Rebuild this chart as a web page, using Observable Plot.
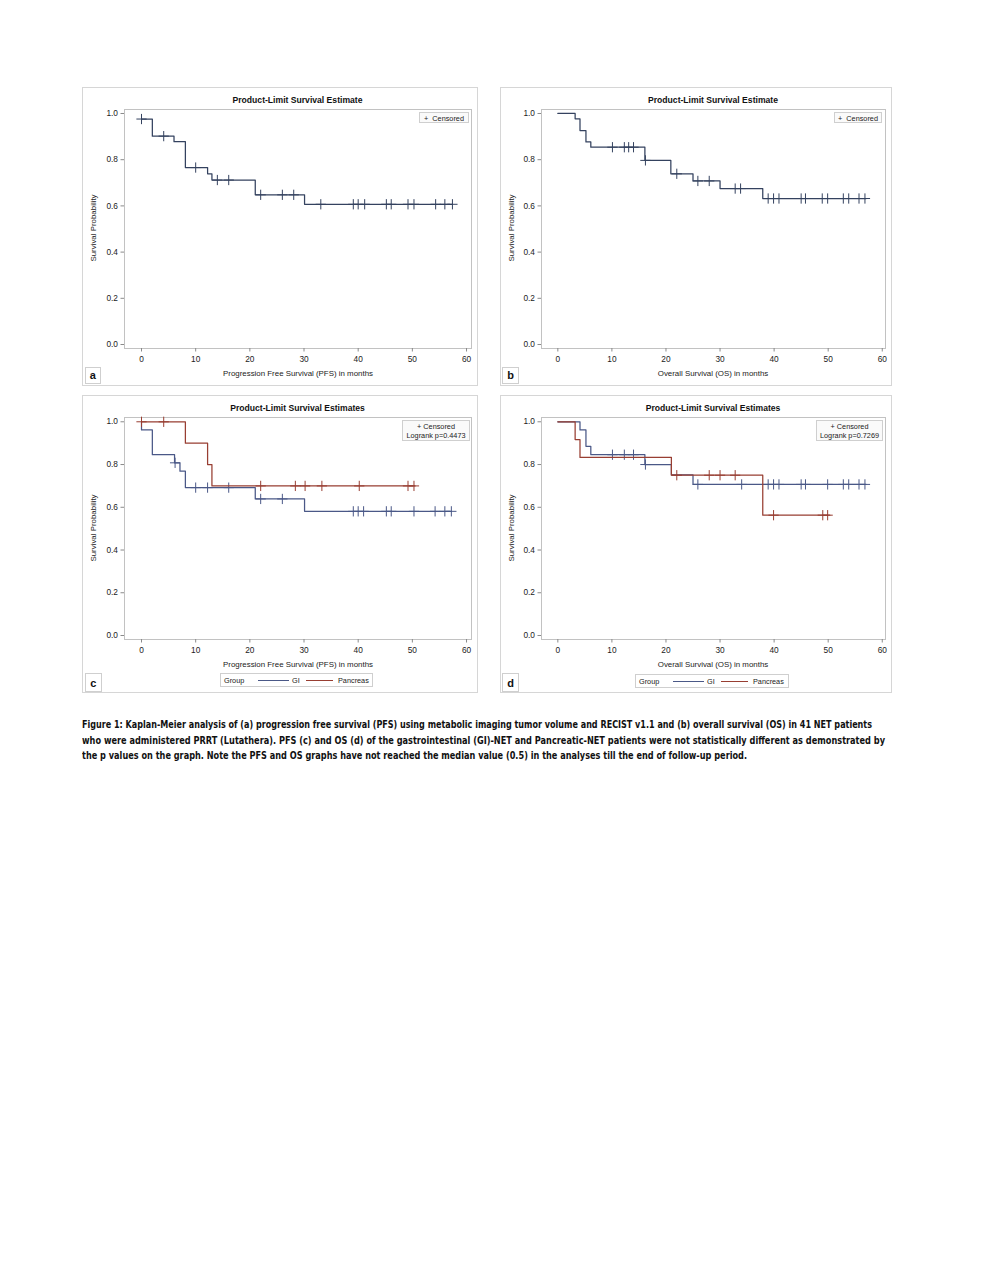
<!DOCTYPE html>
<html><head><meta charset="utf-8">
<script src="https://cdn.jsdelivr.net/npm/d3@7"></script>
<script src="https://cdn.jsdelivr.net/npm/@observablehq/plot@0.6"></script>
<style>
body{margin:0;background:#fff;width:989px;height:1280px;position:relative;font-family:"Liberation Sans",Arial,sans-serif;overflow:hidden;}
.abs{position:absolute;white-space:nowrap;}
.panel{position:absolute;border:1px solid #d6d6d6;box-sizing:border-box;background:#fff;}
.title{font-weight:bold;font-size:8.6px;color:#111;transform:translate(-50%,-50%);}
.xlab{font-size:7.9px;color:#222;transform:translate(-50%,-50%);}
.ylab{font-size:7.9px;color:#222;transform:translate(-50%,-50%) rotate(-90deg);}
.inset{position:absolute;border:1px solid #cfcfcf;background:#fafafa;font-size:7.3px;color:#222;text-align:center;box-sizing:border-box;line-height:9.5px;}
.letter{position:absolute;border:1px solid #cfcfcf;background:#fff;font-weight:bold;font-size:11px;color:#111;box-sizing:border-box;display:flex;align-items:center;justify-content:center;font-family:"Liberation Sans",Arial,sans-serif;}
.legend{position:absolute;border:1px solid #cfcfcf;background:#fff;box-sizing:border-box;font-size:7.3px;color:#222;}
.legend span{position:absolute;top:50%;transform:translateY(-50%);white-space:nowrap;}
.legend i{position:absolute;top:50%;height:0;display:block;}
.cap{position:absolute;left:82px;white-space:nowrap;font-family:"Liberation Sans Narrow","DejaVu Sans Condensed",sans-serif;font-weight:bold;font-size:10.4px;color:#111;transform-origin:0 50%;}
svg{position:absolute;}
</style>
</head><body>
<script>
// ---------- data ----------
const xTicks = [0, 10, 20, 30, 40, 50, 60];
const yTicks = [0, 0.2, 0.4, 0.6, 0.8, 1.0];

// (a) PFS, all patients
const pfsTimes = [0, 2, 6, 8.1, 12.2, 13, 21, 30.1, 57.4];
const pfsSurv  = [0.976, 0.902, 0.878, 0.766, 0.739, 0.712, 0.648, 0.607, 0.607];
const pfsCensor = [0, 4.1, 10, 14, 16.1, 22, 26, 28.1, 33.1, 39.1, 40, 41.2, 45.2, 46.1, 49.2, 50.3, 54.3, 56, 57.4];

// (b) OS, all patients
const osTimes = [0, 3.2, 4.1, 5.2, 6.1, 16.1, 20.9, 25, 30, 37.9, 57];
const osSurv  = [1, 0.977, 0.926, 0.877, 0.854, 0.797, 0.739, 0.708, 0.675, 0.632, 0.632];
const osCensor = [10.1, 12.3, 13.1, 14, 16.2, 22, 25.9, 28, 32.8, 33.8, 38.9, 39.9, 40.9, 45, 45.8, 48.9, 49.9, 52.8, 53.8, 55.7, 56.8];

// (c) PFS by group
const pfsGITimes = [0, 0, 2, 6.1, 7.1, 8.1, 21, 30.1, 57.2];
const pfsGISurv  = [1, 0.962, 0.846, 0.808, 0.769, 0.692, 0.639, 0.581, 0.581];
const pfsGICensor = [6.2, 10, 12.2, 16.1, 22, 26, 39.1, 40, 41, 45.2, 46.1, 50.3, 54.2, 56, 57.2];
const pfsPanTimes = [0, 8.1, 12.2, 13, 50.5];
const pfsPanSurv  = [1, 0.9, 0.8, 0.7, 0.7];
const pfsPanCensor = [0, 4.1, 22, 28.4, 30.2, 33.3, 40.2, 49.2, 50.3];

// (d) OS by group
const osGITimes = [0, 4.1, 5.2, 6.1, 16.1, 21, 25, 57];
const osGISurv  = [1, 0.962, 0.885, 0.846, 0.8, 0.752, 0.707, 0.707];
const osGICensor = [10.1, 12.3, 14, 16.2, 25.9, 34, 38.9, 39.9, 40.9, 45, 45.8, 49.9, 52.8, 53.8, 55.7, 56.8];
const osPanTimes = [0, 3.2, 4.1, 21, 37.9, 50.3];
const osPanSurv  = [1, 0.917, 0.833, 0.75, 0.563, 0.563];
const osPanCensor = [22, 28, 30, 32.8, 39.9, 49, 49.9];

const groups = ["GI", "Pancreas"];
const titles = ["Product-Limit Survival Estimate", "Product-Limit Survival Estimates"];
const xLabels = ["Progression Free Survival (PFS) in months", "Overall Survival (OS) in months"];
const yLabel = "Survival Probability";
const pValues = ["Logrank p=0.4473", "Logrank p=0.7269"];
const captionLines = [
  "Figure 1: Kaplan-Meier analysis of (a) progression free survival (PFS) using metabolic imaging tumor volume and RECIST v1.1 and (b) overall survival (OS) in 41 NET patients",
  "who were administered PRRT (Lutathera).  PFS (c) and OS (d) of the gastrointestinal (GI)-NET and Pancreatic-NET patients were not statistically different as demonstrated by",
  "the p values on the graph. Note the PFS and OS graphs have not reached the median value (0.5) in the analyses till the end of follow-up period."
];

// ---------- styling ----------
const COL_ALL = "#34425f";
const COL_GI = "#4a5887";
const COL_PAN = "#983e32";

function el(tag, cls, css, text) {
  const e = document.createElement(tag);
  if (cls) e.className = cls;
  Object.assign(e.style, css || {});
  if (text != null) e.textContent = text;
  document.body.appendChild(e);
  return e;
}

function survAt(times, surv, t) {
  let v = surv[0];
  for (let i = 0; i < times.length; i++) if (times[i] <= t) v = surv[i];
  return v;
}

function kmPanel(p) {
  el("div", "panel", {left: p.box[0] + "px", top: p.box[1] + "px", width: (p.box[2] - p.box[0]) + "px", height: (p.box[3] - p.box[1]) + "px"});
  const [fl, ft, fr, fb] = p.frame;
  const mL = 40, mT = 6, mR = 6, mB = 22;
  const marks = [
    Plot.frame({stroke: "#c2c2c2"}),
    Plot.axisY({ticks: yTicks, tickFormat: d3.format(".1f"), tickSize: 3.5, tickPadding: 3, stroke: "#8a8a8a", label: null, fontSize: 8.3}),
    Plot.axisX({ticks: xTicks, tickFormat: d3.format("d"), tickSize: 3.5, tickPadding: 4, stroke: "#8a8a8a", label: null, fontSize: 8.3})
  ];
  for (const s of p.series) {
    const steps = s.times.map((t, i) => ({t, s: s.surv[i]}));
    const cens = s.censor.map(t => ({t, s: survAt(s.times, s.surv, t)}));
    marks.push(Plot.line(steps, {x: "t", y: "s", curve: "step-after", stroke: s.color, strokeWidth: 1.25}));
    marks.push(Plot.dot(cens, {x: "t", y: "s", symbol: "plus", r: 3.4, stroke: s.color, strokeWidth: 1}));
  }
  const svg = Plot.plot({
    width: (fr - fl) + mL + mR,
    height: (fb - ft) + mT + mB,
    marginLeft: mL, marginTop: mT, marginRight: mR, marginBottom: mB,
    x: {domain: p.xDomain},
    y: {domain: p.yDomain},
    style: {fontFamily: "'Liberation Sans', Arial, sans-serif", fontSize: "8.3px", color: "#222", background: "transparent", overflow: "visible"},
    marks
  });
  svg.style.left = (fl - mL) + "px";
  svg.style.top = (ft - mT) + "px";
  document.body.appendChild(svg);

  el("div", "abs title", {left: p.title[1] + "px", top: p.title[2] + "px"}, p.title[0]);
  el("div", "abs xlab", {left: p.xlab[1] + "px", top: p.xlab[2] + "px"}, p.xlab[0]);
  el("div", "abs ylab", {left: p.ylabPos[0] + "px", top: p.ylabPos[1] + "px"}, yLabel);

  const ins = el("div", "inset", {left: p.inset[0] + "px", top: p.inset[1] + "px", width: (p.inset[2] - p.inset[0]) + "px", height: (p.inset[3] - p.inset[1]) + "px", paddingTop: "0.5px"});
  ins.innerHTML = p.insetLines.map(t => `<div>${t}</div>`).join("");

  el("div", "letter", {left: p.letter[1] + "px", top: p.letter[2] + "px", width: (p.letter[3] - p.letter[1]) + "px", height: (p.letter[4] - p.letter[2]) + "px"}, p.letter[0]);

  if (p.legend) {
    const [lx, ly, rx, by] = p.legend;
    const lg = el("div", "legend", {left: lx + "px", top: ly + "px", width: (rx - lx) + "px", height: (by - ly) + "px"});
    lg.innerHTML =
      `<span style="left:3px">Group</span>` +
      `<i style="left:37px;width:31px;border-top:1px solid ${COL_GI}"></i>` +
      `<span style="left:71px">${groups[0]}</span>` +
      `<i style="left:85px;width:27px;border-top:1px solid ${COL_PAN}"></i>` +
      `<span style="left:117px">${groups[1]}</span>`;
  }
}

const xDomAC = [-3.14, 60.92], xDomBD = [-3.02, 60.6];
const yDomAB = [-0.0173, 1.0173], yDomCD = [-0.0187, 1.0201];

kmPanel({
  box: [82, 87, 478, 386], frame: [124, 109, 471, 348], xDomain: xDomAC, yDomain: yDomAB,
  title: [titles[0], 297.5, 100], xlab: [xLabels[0], 298, 373], ylabPos: [93, 228],
  inset: [419, 112, 469, 123], insetLines: ["+&nbsp;&nbsp;Censored"],
  letter: ["a", 84.5, 366.5, 101, 384],
  series: [{times: pfsTimes, surv: pfsSurv, censor: pfsCensor, color: COL_ALL}]
});
kmPanel({
  box: [500, 87, 892, 386], frame: [541, 109, 885, 348], xDomain: xDomBD, yDomain: yDomAB,
  title: [titles[0], 713, 100], xlab: [xLabels[1], 713, 373], ylabPos: [511, 228],
  inset: [834, 112, 882, 123], insetLines: ["+&nbsp;&nbsp;Censored"],
  letter: ["b", 502, 366.5, 519, 384],
  series: [{times: osTimes, surv: osSurv, censor: osCensor, color: COL_ALL}]
});
kmPanel({
  box: [82, 395, 478, 693], frame: [124, 417, 471, 639], xDomain: xDomAC, yDomain: yDomCD,
  title: [titles[1], 297.5, 408], xlab: [xLabels[0], 298, 664], ylabPos: [93, 528],
  inset: [402, 420, 470, 441], insetLines: ["+ Censored", pValues[0]],
  letter: ["c", 84.5, 673, 102, 692], legend: [220, 673, 373, 687],
  series: [
    {times: pfsGITimes, surv: pfsGISurv, censor: pfsGICensor, color: COL_GI},
    {times: pfsPanTimes, surv: pfsPanSurv, censor: pfsPanCensor, color: COL_PAN}
  ]
});
kmPanel({
  box: [500, 395, 892, 693], frame: [541, 417, 885, 639], xDomain: xDomBD, yDomain: yDomCD,
  title: [titles[1], 713, 408], xlab: [xLabels[1], 713, 664], ylabPos: [511, 528],
  inset: [816, 420, 883, 441], insetLines: ["+ Censored", pValues[1]],
  letter: ["d", 502, 673, 519, 692], legend: [635, 674, 789, 688],
  series: [
    {times: osGITimes, surv: osGISurv, censor: osGICensor, color: COL_GI},
    {times: osPanTimes, surv: osPanSurv, censor: osPanCensor, color: COL_PAN}
  ]
});

// caption
const capTargets = [790, 803, 665];
const capTops = [718, 733.5, 748.5];
captionLines.forEach((t, i) => {
  const c = el("div", "cap", {top: capTops[i] + "px"}, t);
  const w = c.getBoundingClientRect().width;
  if (w > 0) c.style.transform = `scaleX(${capTargets[i] / w})`;
});
</script>
</body></html>
